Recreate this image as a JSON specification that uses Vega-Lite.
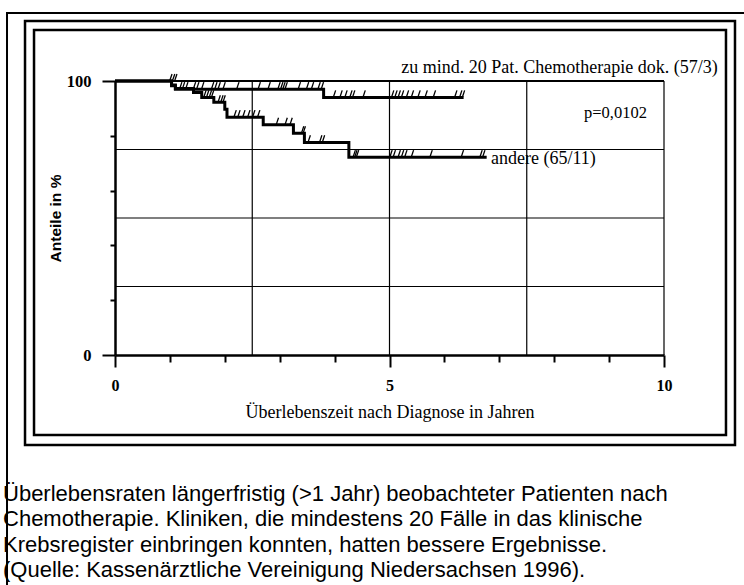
{
  "$schema": "https://vega.github.io/schema/vega-lite/v6.json",
  "width": 549,
  "height": 274,
  "autosize": "none",
  "padding": {"left": 115, "top": 81, "right": 80, "bottom": 230},
  "background": "white",
  "config": {"view": {"stroke": null}},
  "datasets": {
    "curves": [
      {"g": "A", "t": 0, "s": 100}, {"g": "A", "t": 1.03, "s": 98.3}, {"g": "A", "t": 1.1, "s": 97.0},
      {"g": "A", "t": 3.8, "s": 94.0}, {"g": "A", "t": 6.35, "s": 94.0},
      {"g": "B", "t": 0, "s": 100}, {"g": "B", "t": 1.03, "s": 98.5}, {"g": "B", "t": 1.1, "s": 97.3},
      {"g": "B", "t": 1.43, "s": 95.8}, {"g": "B", "t": 1.58, "s": 94.0}, {"g": "B", "t": 1.8, "s": 92.2},
      {"g": "B", "t": 2.0, "s": 89.7}, {"g": "B", "t": 2.04, "s": 86.8}, {"g": "B", "t": 2.7, "s": 84.0},
      {"g": "B", "t": 3.25, "s": 80.9}, {"g": "B", "t": 3.45, "s": 77.6}, {"g": "B", "t": 4.26, "s": 72.2},
      {"g": "B", "t": 6.77, "s": 72.2}
    ],
    "censored": [
      {"g": "A", "t": 1.0, "s": 100}, {"g": "A", "t": 1.05, "s": 100}, {"g": "A", "t": 1.09, "s": 100},
      {"g": "A", "t": 1.18, "s": 97}, {"g": "A", "t": 1.23, "s": 97}, {"g": "A", "t": 1.29, "s": 97},
      {"g": "A", "t": 1.43, "s": 97}, {"g": "A", "t": 1.49, "s": 97}, {"g": "A", "t": 1.58, "s": 97},
      {"g": "A", "t": 1.76, "s": 97}, {"g": "A", "t": 1.82, "s": 97}, {"g": "A", "t": 1.88, "s": 97},
      {"g": "A", "t": 1.97, "s": 97}, {"g": "A", "t": 2.22, "s": 97}, {"g": "A", "t": 2.61, "s": 97},
      {"g": "A", "t": 2.79, "s": 97}, {"g": "A", "t": 2.97, "s": 97}, {"g": "A", "t": 3.02, "s": 97},
      {"g": "A", "t": 3.06, "s": 97}, {"g": "A", "t": 3.1, "s": 97}, {"g": "A", "t": 3.34, "s": 97},
      {"g": "A", "t": 3.49, "s": 97}, {"g": "A", "t": 3.58, "s": 97}, {"g": "A", "t": 3.7, "s": 97},
      {"g": "A", "t": 3.76, "s": 97},
      {"g": "A", "t": 3.98, "s": 94}, {"g": "A", "t": 4.1, "s": 94}, {"g": "A", "t": 4.19, "s": 94},
      {"g": "A", "t": 4.28, "s": 94}, {"g": "A", "t": 4.33, "s": 94}, {"g": "A", "t": 4.52, "s": 94},
      {"g": "A", "t": 5.04, "s": 94}, {"g": "A", "t": 5.1, "s": 94}, {"g": "A", "t": 5.16, "s": 94},
      {"g": "A", "t": 5.22, "s": 94}, {"g": "A", "t": 5.31, "s": 94}, {"g": "A", "t": 5.4, "s": 94},
      {"g": "A", "t": 5.52, "s": 94}, {"g": "A", "t": 5.65, "s": 94}, {"g": "A", "t": 5.8, "s": 94},
      {"g": "A", "t": 6.19, "s": 94}, {"g": "A", "t": 6.28, "s": 94}, {"g": "A", "t": 6.33, "s": 94},
      {"g": "B", "t": 1.62, "s": 94.0}, {"g": "B", "t": 1.67, "s": 94.0}, {"g": "B", "t": 1.72, "s": 94.0},
      {"g": "B", "t": 1.76, "s": 94.0}, {"g": "B", "t": 1.88, "s": 92.2}, {"g": "B", "t": 1.93, "s": 92.2},
      {"g": "B", "t": 1.97, "s": 92.2}, {"g": "B", "t": 2.17, "s": 86.8}, {"g": "B", "t": 2.24, "s": 86.8},
      {"g": "B", "t": 2.33, "s": 86.8}, {"g": "B", "t": 2.42, "s": 86.8}, {"g": "B", "t": 2.51, "s": 86.8},
      {"g": "B", "t": 2.6, "s": 86.8}, {"g": "B", "t": 2.94, "s": 84.0}, {"g": "B", "t": 3.1, "s": 84.0},
      {"g": "B", "t": 3.19, "s": 84.0}, {"g": "B", "t": 3.4, "s": 80.9}, {"g": "B", "t": 3.43, "s": 80.9},
      {"g": "B", "t": 3.52, "s": 77.6}, {"g": "B", "t": 3.73, "s": 77.6}, {"g": "B", "t": 3.78, "s": 77.6},
      {"g": "B", "t": 4.34, "s": 72.2}, {"g": "B", "t": 4.37, "s": 72.2}, {"g": "B", "t": 4.4, "s": 72.2},
      {"g": "B", "t": 5.01, "s": 72.2}, {"g": "B", "t": 5.07, "s": 72.2}, {"g": "B", "t": 5.16, "s": 72.2},
      {"g": "B", "t": 5.22, "s": 72.2}, {"g": "B", "t": 5.28, "s": 72.2}, {"g": "B", "t": 5.4, "s": 72.2},
      {"g": "B", "t": 5.74, "s": 72.2}, {"g": "B", "t": 6.31, "s": 72.2}, {"g": "B", "t": 6.65, "s": 72.2},
      {"g": "B", "t": 6.7, "s": 72.2}
    ],
    "hgrid": [{"y": 25}, {"y": 50}, {"y": 75}],
    "vgrid": [{"x": 2.5}, {"x": 5}, {"x": 7.5}, {"x": 10}]
  },
  "layer": [
    {
      "data": {"name": "curves"},
      "mark": {"type": "line", "interpolate": "step-after", "color": "black", "strokeWidth": 3},
      "encoding": {
        "x": {
          "field": "t", "type": "quantitative",
          "scale": {"domain": [0, 10], "nice": false, "zero": false},
          "axis": {
            "values": [0, 1, 2, 3, 4, 5, 6, 7, 8, 9, 10],
            "labelExpr": "datum.value % 5 === 0 ? datum.label : ''",
            "tickSize": {"condition": {"test": "datum.value % 5 === 0", "value": 12}, "value": 7},
            "tickWidth": 2, "tickColor": "black",
            "domainWidth": 2.5, "domainColor": "black",
            "grid": false,
            "labelFont": "Liberation Serif", "labelFontWeight": "bold", "labelFontSize": 16, "labelColor": "black",
            "labelPadding": 10, "labelFlush": false,
            "title": "Überlebenszeit nach Diagnose in Jahren",
            "titleFont": "Liberation Serif", "titleFontWeight": "normal", "titleFontSize": 18, "titleColor": "black",
            "titlePadding": 10
          }
        },
        "y": {
          "field": "s", "type": "quantitative",
          "scale": {"domain": [0, 100], "nice": false, "zero": false},
          "axis": {
            "values": [0, 10, 20, 30, 40, 50, 60, 70, 80, 90, 100],
            "labelExpr": "datum.value % 50 === 0 ? datum.label : ''",
            "tickSize": {"condition": {"test": "datum.value % 50 === 0", "value": 13}, "value": 5},
            "tickWidth": 2, "tickColor": "black",
            "domainWidth": 2.5, "domainColor": "black",
            "grid": false,
            "labelFont": "Liberation Serif", "labelFontWeight": "bold", "labelFontSize": 16.5, "labelColor": "black",
            "labelPadding": 11, "labelFlush": false,
            "title": "Anteile in %",
            "titleFont": "Liberation Sans", "titleFontWeight": "bold", "titleFontSize": 15.5, "titleColor": "black",
            "titlePadding": 3
          }
        },
        "detail": {"field": "g"}
      }
    },
    {
      "data": {"values": [{}]},
      "mark": {"type": "rect", "fill": null, "stroke": "black", "strokeWidth": 2},
      "encoding": {
        "x": {"datum": -1.967, "scale": {"domain": [0, 10], "nice": false, "zero": false}},
        "x2": {"datum": 11.75},
        "y": {"datum": 124.8, "scale": {"domain": [0, 100], "nice": false, "zero": false}},
        "y2": {"datum": -89.4}
      }
    },
    {
      "data": {"values": [{}]},
      "mark": {"type": "rect", "fill": null, "stroke": "black", "strokeWidth": 2.5},
      "encoding": {
        "x": {"datum": -1.639, "scale": {"domain": [0, 10], "nice": false, "zero": false}},
        "x2": {"datum": 11.293},
        "y": {"datum": 121.9, "scale": {"domain": [0, 100], "nice": false, "zero": false}},
        "y2": {"datum": -32.85}
      }
    },
    {
      "data": {"values": [{}]},
      "mark": {"type": "rect", "fill": null, "stroke": "black", "strokeWidth": 2.5},
      "encoding": {
        "x": {"datum": -1.475, "scale": {"domain": [0, 10], "nice": false, "zero": false}},
        "x2": {"datum": 11.129},
        "y": {"datum": 118.6, "scale": {"domain": [0, 100], "nice": false, "zero": false}},
        "y2": {"datum": -29.2}
      }
    },
    {
      "data": {"name": "hgrid"},
      "mark": {"type": "rule", "color": "black", "strokeWidth": 1.2},
      "encoding": {
        "y": {"field": "y", "type": "quantitative", "scale": {"domain": [0, 100], "nice": false, "zero": false}},
        "x": {"datum": 0, "scale": {"domain": [0, 10], "nice": false, "zero": false}},
        "x2": {"datum": 10}
      }
    },
    {
      "data": {"name": "vgrid"},
      "mark": {"type": "rule", "color": "black", "strokeWidth": 1.2},
      "encoding": {
        "x": {"field": "x", "type": "quantitative", "scale": {"domain": [0, 10], "nice": false, "zero": false}},
        "y": {"datum": 0, "scale": {"domain": [0, 100], "nice": false, "zero": false}},
        "y2": {"datum": 100}
      }
    },
    {
      "data": {"values": [{"y": 100}]},
      "mark": {"type": "rule", "color": "black", "strokeWidth": 2},
      "encoding": {
        "y": {"field": "y", "type": "quantitative", "scale": {"domain": [0, 100], "nice": false, "zero": false}},
        "x": {"datum": 0, "scale": {"domain": [0, 10], "nice": false, "zero": false}},
        "x2": {"datum": 10}
      }
    },
    {
      "data": {"name": "censored"},
      "mark": {"type": "point", "shape": "M0,-0.1L0.3,-1", "filled": false, "stroke": "black", "strokeWidth": 1.3, "size": 200, "opacity": 1},
      "encoding": {
        "x": {"field": "t", "type": "quantitative", "scale": {"domain": [0, 10], "nice": false, "zero": false}},
        "y": {"field": "s", "type": "quantitative", "scale": {"domain": [0, 100], "nice": false, "zero": false}},
        "detail": {"field": "g"}
      }
    },
    {
      "data": {"values": [
        {"label": "zu mind. 20 Pat. Chemotherapie dok. (57/3)", "x": 10.98, "y": 104.7}
      ]},
      "mark": {"type": "text", "align": "right", "baseline": "middle", "font": "Liberation Serif", "fontSize": 18, "color": "black"},
      "encoding": {
        "x": {"field": "x", "type": "quantitative", "scale": {"domain": [0, 10], "nice": false, "zero": false}},
        "y": {"field": "y", "type": "quantitative", "scale": {"domain": [0, 100], "nice": false, "zero": false}},
        "text": {"field": "label"}
      }
    },
    {
      "data": {"values": [
        {"label": "p=0,0102", "x": 9.69, "y": 88.3}
      ]},
      "mark": {"type": "text", "align": "right", "baseline": "middle", "font": "Liberation Serif", "fontSize": 16.5, "color": "black"},
      "encoding": {
        "x": {"field": "x", "type": "quantitative", "scale": {"domain": [0, 10], "nice": false, "zero": false}},
        "y": {"field": "y", "type": "quantitative", "scale": {"domain": [0, 100], "nice": false, "zero": false}},
        "text": {"field": "label"}
      }
    },
    {
      "data": {"values": [
        {"label": "andere (65/11)", "x": 6.85, "y": 71.5}
      ]},
      "mark": {"type": "text", "align": "left", "baseline": "middle", "font": "Liberation Serif", "fontSize": 18, "color": "black"},
      "encoding": {
        "x": {"field": "x", "type": "quantitative", "scale": {"domain": [0, 10], "nice": false, "zero": false}},
        "y": {"field": "y", "type": "quantitative", "scale": {"domain": [0, 100], "nice": false, "zero": false}},
        "text": {"field": "label"}
      }
    },
    {
      "data": {"values": [{}]},
      "mark": {
        "type": "text", "align": "left", "baseline": "alphabetic", "font": "Liberation Sans", "fontSize": 22,
        "lineHeight": 25.4, "color": "black"
      },
      "encoding": {
        "x": {"datum": -2.04, "scale": {"domain": [0, 10], "nice": false, "zero": false}},
        "y": {"datum": -53.3, "scale": {"domain": [0, 100], "nice": false, "zero": false}},
        "text": {"value": [
          "Überlebensraten längerfristig (>1 Jahr) beobachteter Patienten nach",
          "Chemotherapie. Kliniken, die mindestens 20 Fälle in das klinische",
          "Krebsregister einbringen konnten, hatten bessere Ergebnisse.",
          "(Quelle: Kassenärztliche Vereinigung Niedersachsen 1996)."
        ]}
      }
    }
  ]
}
